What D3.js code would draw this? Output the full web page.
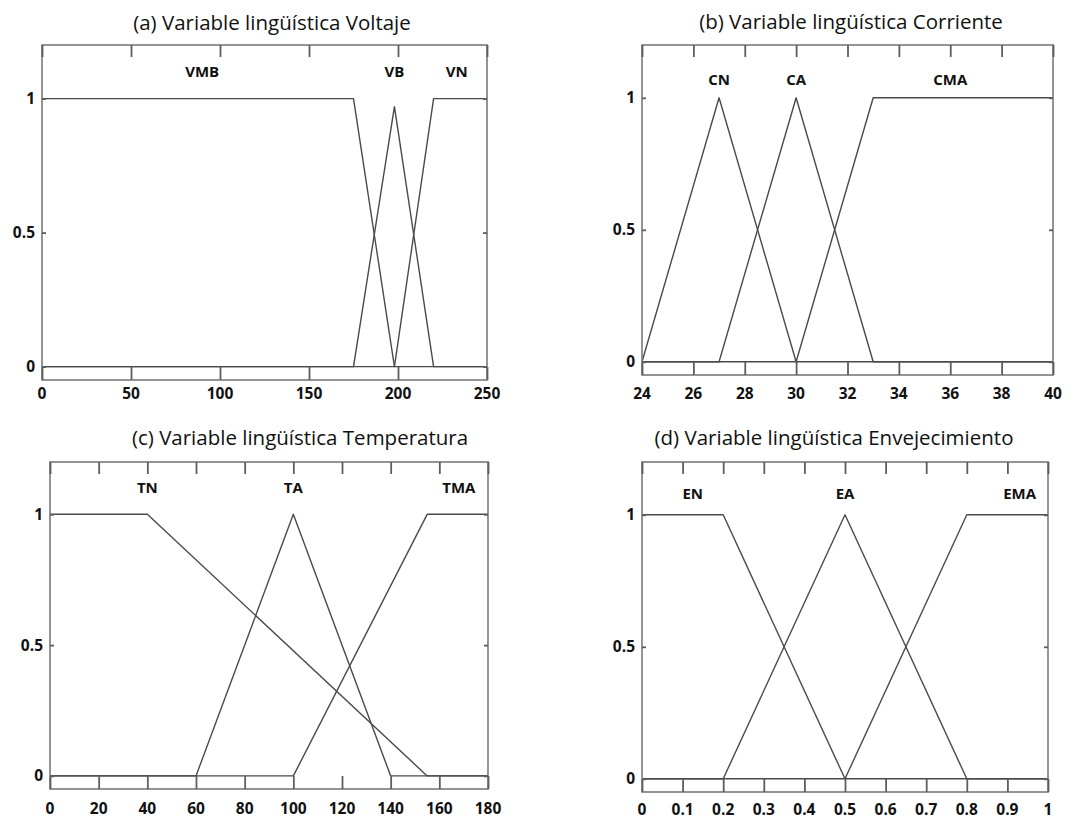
<!DOCTYPE html>
<html><head><meta charset="utf-8">
<script src="https://cdn.jsdelivr.net/npm/d3@7"></script>
<style>body{margin:0;background:#fff} svg{display:block}</style>
</head><body><svg id="c" width="1089" height="819"></svg>
<script>
// ---- data ----
const yTicks = [0, 0.5, 1];
const yTickLabels = ["0", "0.5", "1"];

// (a) Voltaje
const voltTicks = [0, 50, 100, 150, 200, 250];
const voltVMB = [[0,1],[175,1],[198,0],[250,0]];
const voltVB  = [[0,0],[175,0],[198,0.97],[220,0],[250,0]];
const voltVN  = [[0,0],[198,0],[220,1],[250,1]];
const voltLabels = ["VMB", "VB", "VN"];
const voltLabelX = [90, 198, 233];

// (b) Corriente
const corrTicks = [24, 26, 28, 30, 32, 34, 36, 38, 40];
const corrCN  = [[24,0],[27,1],[30,0],[40,0]];
const corrCA  = [[24,0],[27,0],[30,1],[33,0],[40,0]];
const corrCMA = [[24,0],[30,0],[33,1],[40,1]];
const corrLabels = ["CN", "CA", "CMA"];
const corrLabelX = [27, 30, 36];

// (c) Temperatura
const tempTicks = [0, 20, 40, 60, 80, 100, 120, 140, 160, 180];
const tempTN  = [[0,1],[40,1],[155,0],[180,0]];
const tempTA  = [[0,0],[60,0],[100,1],[140,0],[180,0]];
const tempTMA = [[0,0],[100,0],[155,1],[180,1]];
const tempLabels = ["TN", "TA", "TMA"];
const tempLabelX = [40, 100, 168];

// (d) Envejecimiento
const envTicks = [0, 0.1, 0.2, 0.3, 0.4, 0.5, 0.6, 0.7, 0.8, 0.9, 1];
const envTickLabels = ["0","0.1","0.2","0.3","0.4","0.5","0.6","0.7","0.8","0.9","1"];
const envEN  = [[0,1],[0.2,1],[0.5,0],[1,0]];
const envEA  = [[0,0],[0.2,0],[0.5,1],[0.8,0],[1,0]];
const envEMA = [[0,0],[0.5,0],[0.8,1],[1,1]];
const envLabels = ["EN", "EA", "EMA"];
const envLabelX = [0.125, 0.5, 0.93];

// ---- layout ----
const panels = [
  {title:"(a) Variable lingüística Voltaje", tx:272, ty:23,
   box:{l:42,r:487,t:45,b:380}, domain:[0,250], ticks:voltTicks, tickLabels:voltTicks.map(String), tly:14,
   series:[voltVMB, voltVB, voltVN], labels:voltLabels, labelX:voltLabelX, labelY:1.10},
  {title:"(b) Variable lingüística Corriente", tx:851, ty:22,
   box:{l:642,r:1053,t:45,b:375}, domain:[24,40], ticks:corrTicks, tickLabels:corrTicks.map(String), tly:19,
   series:[corrCN, corrCA, corrCMA], labels:corrLabels, labelX:corrLabelX, labelY:1.07},
  {title:"(c) Variable lingüística Temperatura", tx:300, ty:438,
   box:{l:50,r:488,t:462,b:789}, domain:[0,180], ticks:tempTicks, tickLabels:tempTicks.map(String), tly:20,
   series:[tempTN, tempTA, tempTMA], labels:tempLabels, labelX:tempLabelX, labelY:1.10},
  {title:"(d) Variable lingüística Envejecimiento", tx:834, ty:438,
   box:{l:642,r:1048,t:462,b:792}, domain:[0,1], ticks:envTicks, tickLabels:envTickLabels, tly:18,
   series:[envEN, envEA, envEMA], labels:envLabels, labelX:envLabelX, labelY:1.08}
];

const svg = d3.select("#c");
const FONT = "'Open Sans', 'Noto Sans', sans-serif";
const FRAME = "#7a7a7a";
const TICK = "#5e5e5e";

function styleAxis(sel) {
  sel.select(".domain").remove();
  sel.selectAll(".tick line").attr("stroke", TICK).attr("stroke-width", 1.8);
  sel.selectAll(".tick text").remove();
}

panels.forEach(p => {
  const {l, r, t, b} = p.box;
  const x = d3.scaleLinear().domain(p.domain).range([l, r]);
  const y = d3.scaleLinear().domain([-0.05, 1.2]).range([b, t]);
  const g = svg.append("g");

  g.append("text").attr("x", p.tx).attr("y", p.ty).attr("dy", "0.35em")
    .attr("text-anchor", "middle").attr("font-family", FONT).attr("font-size", 20.5)
    .attr("fill", "#111").text(p.title);

  const line = d3.line().x(d => x(d[0])).y(d => y(d[1]));
  p.series.forEach(s => {
    g.append("path").attr("d", line(s)).attr("fill", "none")
      .attr("stroke", "#4a4a4a").attr("stroke-width", 1.4).attr("stroke-linejoin", "round");
  });

  g.append("rect").attr("x", l).attr("y", t).attr("width", r - l).attr("height", b - t)
    .attr("fill", "none").attr("stroke", FRAME).attr("stroke-width", 1.6);

  g.append("g").attr("transform", `translate(0,${b})`)
    .call(d3.axisBottom(x).tickValues(p.ticks).tickSizeInner(-13).tickSizeOuter(0)).call(styleAxis);
  g.append("g").attr("transform", `translate(0,${t})`)
    .call(d3.axisTop(x).tickValues(p.ticks).tickSizeInner(-12).tickSizeOuter(0)).call(styleAxis);
  g.append("g").attr("transform", `translate(${l},0)`)
    .call(d3.axisLeft(y).tickValues(yTicks).tickSizeInner(-4).tickSizeOuter(0)).call(styleAxis);
  g.append("g").attr("transform", `translate(${r},0)`)
    .call(d3.axisRight(y).tickValues(yTicks).tickSizeInner(-4).tickSizeOuter(0)).call(styleAxis);

  p.ticks.forEach((v, i) => {
    g.append("text").attr("x", x(v)).attr("y", b + p.tly).attr("dy", "0.35em")
      .attr("text-anchor", "middle").attr("font-family", FONT).attr("font-weight", "bold")
      .attr("font-size", 15.5).attr("fill", "#111").text(p.tickLabels[i]);
  });
  yTicks.forEach((v, i) => {
    g.append("text").attr("x", l - 7).attr("y", y(v)).attr("dy", "0.35em")
      .attr("text-anchor", "end").attr("font-family", FONT).attr("font-weight", "bold")
      .attr("font-size", 15.5).attr("fill", "#111").text(yTickLabels[i]);
  });

  p.labels.forEach((lab, i) => {
    g.append("text").attr("x", x(p.labelX[i])).attr("y", y(p.labelY)).attr("dy", "0.35em")
      .attr("text-anchor", "middle").attr("font-family", FONT).attr("font-weight", "bold")
      .attr("font-size", 15).attr("fill", "#111").text(lab);
  });
});
</script></body></html>
